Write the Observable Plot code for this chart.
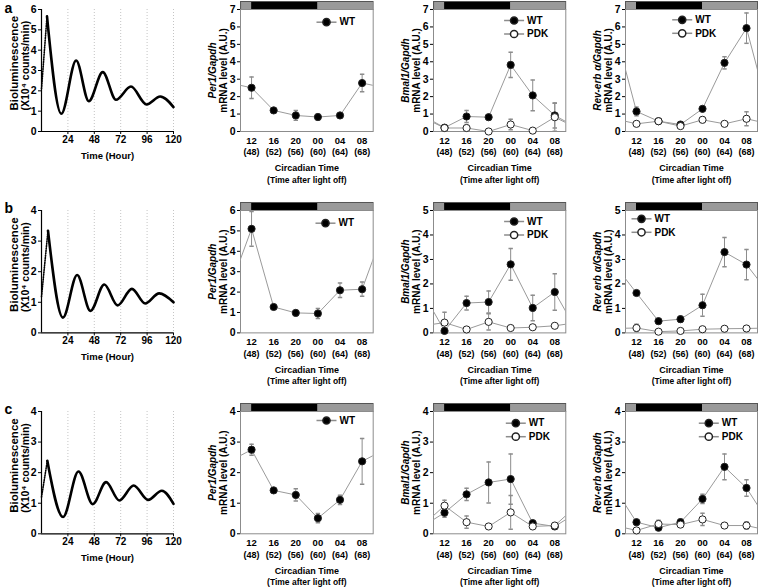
<!DOCTYPE html>
<html><head><meta charset="utf-8">
<script src="https://cdn.jsdelivr.net/npm/d3@7"></script>
<script src="https://cdn.jsdelivr.net/npm/@observablehq/plot@0.6"></script>
<style>
body{margin:0;background:#fff;}
#fig{position:relative;width:758px;height:587px;overflow:hidden;background:#fff;}
</style></head><body><div id="fig"></div>
<script>
// ---------- data ----------
const bioTicks = [24, 48, 72, 96, 120];
const bioHoursA = [0, 5, 18, 31.5, 43, 55.7, 67.7, 81.3, 95.5, 107.9, 120];
const bioValuesA = [2.1, 5.66, 0.87, 3.49, 1.49, 2.92, 1.56, 2.21, 1.33, 1.72, 1.2];
const bioHoursB = [0, 5.9, 19.5, 32.4, 44.5, 57.1, 69.2, 82.2, 94.3, 107, 120];
const bioValuesB = [1.18, 3.34, 0.5, 1.89, 0.72, 1.58, 0.9, 1.44, 0.96, 1.29, 1.0];
const bioHoursC = [0, 5.3, 19.6, 33.6, 46.6, 58.7, 70.7, 83.8, 97, 109.4, 120];
const bioValuesC = [1.2, 2.39, 0.55, 2.04, 0.97, 1.69, 1.09, 1.58, 1.11, 1.41, 0.98];

const ctTicks = [12, 16, 20, 24, 28, 32];
const ctLabels = ["12", "16", "20", "00", "04", "08"];
const hourLabels = ["(48)", "(52)", "(56)", "(60)", "(64)", "(68)"];
const phaseStart = [10, 12, 24];
const phaseEnd = [12, 24, 34];
const phaseName = ["light", "dark", "light"];

// row a
const per1A_WT = [2.51, 1.21, 0.92, 0.83, 0.92, 2.78];
const per1A_WT_err = [0.62, 0.1, 0.28, 0.18, 0.08, 0.5];
const bmal1A_WT = [0.22, 0.86, 0.82, 3.82, 2.07, 0.92];
const bmal1A_WT_err = [0.1, 0.35, 0.05, 0.72, 0.88, 0.72];
const bmal1A_PDK = [0.2, 0.2, 0.0, 0.4, 0.05, 0.82];
const bmal1A_PDK_err = [0.05, 0.15, 0.03, 0.3, 0.04, 0.8];
const revA_WT = [1.15, 0.59, 0.4, 1.3, 3.94, 5.93];
const revA_WT_err = [0.25, 0.08, 0.08, 0.08, 0.35, 0.87];
const revA_PDK = [0.44, 0.59, 0.31, 0.67, 0.44, 0.73];
const revA_PDK_err = [0.06, 0.06, 0.05, 0.15, 0.12, 0.4];
// row b
const per1B_WT = [5.1, 1.27, 0.98, 0.95, 2.09, 2.14];
const per1B_WT_err = [0.85, 0.05, 0.08, 0.25, 0.35, 0.35];
const bmal1B_WT = [0.08, 1.22, 1.26, 2.8, 1.02, 1.67];
const bmal1B_WT_err = [0.05, 0.28, 0.45, 0.65, 0.52, 0.75];
const bmal1B_PDK = [0.42, 0.14, 0.45, 0.2, 0.23, 0.29];
const bmal1B_PDK_err = [0.42, 0.05, 0.33, 0.04, 0.04, 0.05];
const revB_WT = [1.63, 0.48, 0.56, 1.13, 3.3, 2.79];
const revB_WT_err = [0.08, 0.05, 0.12, 0.45, 0.6, 0.62];
const revB_PDK = [0.2, 0.05, 0.08, 0.15, 0.17, 0.18];
const revB_PDK_err = [0.15, 0.03, 0.03, 0.04, 0.04, 0.04];
// row c
const per1C_WT = [2.75, 1.42, 1.27, 0.51, 1.11, 2.37];
const per1C_WT_err = [0.18, 0.05, 0.2, 0.15, 0.15, 0.75];
const bmal1C_WT = [0.69, 1.29, 1.68, 1.79, 0.35, 0.24];
const bmal1C_WT_err = [0.15, 0.2, 0.67, 0.82, 0.05, 0.05];
const bmal1C_PDK = [0.92, 0.38, 0.24, 0.7, 0.24, 0.27];
const bmal1C_PDK_err = [0.18, 0.2, 0.05, 0.55, 0.05, 0.05];
const revC_WT = [0.38, 0.2, 0.38, 1.14, 2.19, 1.5];
const revC_WT_err = [0.05, 0.05, 0.1, 0.15, 0.42, 0.27];
const revC_PDK = [0.11, 0.32, 0.3, 0.47, 0.27, 0.27];
const revC_PDK_err = [0.03, 0.12, 0.06, 0.2, 0.05, 0.12];

// ---------- helpers ----------
const FONT = "'Liberation Sans', Arial, Helvetica, sans-serif";
const fig = document.getElementById("fig");
const GRAY = "#8c8c8c";

function addSvg(svg, left, top) {
  svg.style.position = "absolute";
  svg.style.left = left + "px";
  svg.style.top = top + "px";
  svg.style.overflow = "visible";
  fig.appendChild(svg);
}
const hSymbol = {draw(ctx, size) { const r = Math.sqrt(size / Math.PI); ctx.moveTo(-r, 0); ctx.lineTo(r, 0); }};
const baseStyle = {fontFamily: FONT, fontSize: "10px", fontWeight: "bold", background: "transparent", overflow: "visible", color: "#000"};
const intFmt = d => String(d);

function bioPanel(p) {
  const ml = 45, mr = 14, mt = 14, mb = 34;
  const pts = p.hours.map((h, i) => ({h, v: p.values[i]}));
  const svg = Plot.plot({
    width: p.W + ml + mr, height: p.H + mt + mb,
    marginLeft: ml, marginRight: mr, marginTop: mt, marginBottom: mb,
    style: baseStyle,
    x: {domain: [0, 120], axis: null},
    y: {domain: [0, p.ymax], axis: null},
    marks: [
      Plot.ruleX(bioTicks, {stroke: "#c4c4c4", strokeDasharray: "1,2"}),
      Plot.line(pts.slice(0, 2), {x: "h", y: "v", stroke: "#000", strokeWidth: 1.6, strokeDasharray: "1,1.4"}),
      Plot.line(pts.slice(1), {x: "h", y: "v", stroke: "#000", strokeWidth: 2.6, curve: "monotone-x"}),
      Plot.ruleX([0], {stroke: "#000", strokeWidth: 1.2}),
      Plot.ruleY([0], {stroke: "#000", strokeWidth: 1.2}),
      Plot.axisX({ticks: bioTicks, tickFormat: intFmt, tickSize: 3, tickPadding: 1, label: null, fontSize: 10}),
      Plot.axisY({ticks: d3.range(0, p.ymax + 1), tickFormat: intFmt, tickSize: 3, tickPadding: 2, label: null, fontSize: 10.5}),
      Plot.text(["Time (Hour)"], {text: d => d, frameAnchor: "bottom", dy: 24, lineAnchor: "middle", fontSize: 9.5}),
      Plot.text(["Bioluminescence"], {text: d => d, frameAnchor: "bottom-left", dx: -27, dy: -21, rotate: -90, textAnchor: "start", lineAnchor: "middle", fontSize: 11.5}),
      Plot.text(["(X10\u2074 counts/min)"], {text: d => d, frameAnchor: "bottom-left", dx: -15.5, dy: -21, rotate: -90, textAnchor: "start", lineAnchor: "middle", fontSize: 10.5}),
      Plot.text([p.letter], {text: d => d, frameAnchor: "top-left", dx: -37, dy: 3, textAnchor: "start", lineAnchor: "bottom", fontSize: 14})
    ]
  });
  addSvg(svg, p.L - ml, p.T - mt);
}

function seriesRows(vals, errs) {
  return ctTicks.map((ct, i) => ({ct, v: vals[i], lo: vals[i] - errs[i], hi: vals[i] + errs[i]}));
}
function wrapRows(vals) {
  const step = ctTicks[1] - ctTicks[0], n = ctTicks.length;
  return [{ct: ctTicks[0] - step, v: vals[n - 1]}, ...ctTicks.map((ct, i) => ({ct, v: vals[i]})), {ct: ctTicks[n - 1] + step, v: vals[0]}];
}

function mrnaPanel(p) {
  const ml = 48, mr = 6, mt = 2, mb = 58;
  const xdom = [phaseStart[0], phaseEnd[phaseEnd.length - 1]];
  const phases = phaseName.map((ph, i) => ({ph, s: phaseStart[i], e: phaseEnd[i]}));
  const barH = 8;
  const bar = Plot.plot({
    width: p.W + ml + mr, height: barH + 2,
    marginLeft: ml, marginRight: mr, marginTop: 1, marginBottom: 1,
    style: baseStyle,
    x: {domain: xdom, axis: null},
    marks: [
      Plot.rect(phases.filter(d => d.ph === "light"), {x1: "s", x2: "e", fill: "#9a9a9a"}),
      Plot.rect(phases.filter(d => d.ph === "dark"), {x1: "s", x2: "e", fill: "#000"}),
      Plot.frame({stroke: "#555", strokeWidth: 1})
    ]
  });
  addSvg(bar, p.L - ml, p.T - barH - 1);

  const marks = [Plot.frame({stroke: GRAY})];
  p.series.forEach(s => marks.push(Plot.line(wrapRows(s.values), {x: "ct", y: "v", stroke: "#9a9a9a", strokeWidth: 1, clip: true})));
  p.series.forEach(s => {
    const rows = seriesRows(s.values, s.errors);
    marks.push(Plot.ruleX(rows, {x: "ct", y1: "lo", y2: "hi", stroke: GRAY, strokeWidth: 1, clip: true}));
    marks.push(Plot.dot(rows, {x: "ct", y: "hi", symbol: hSymbol, r: 2.2, stroke: GRAY, fill: "none", clip: true}));
    marks.push(Plot.dot(rows, {x: "ct", y: "lo", symbol: hSymbol, r: 2.2, stroke: GRAY, fill: "none", clip: true}));
  });
  p.series.forEach(s => marks.push(Plot.dot(seriesRows(s.values, s.errors), {x: "ct", y: "v", r: 3.6, fill: s.open ? "#fff" : "#000", stroke: "#222", strokeWidth: 1})));
  p.series.forEach((s, i) => {
    const dy = p.legend.y + i * 13.5;
    marks.push(Plot.dot([s.name], {frameAnchor: "top-left", dx: p.legend.x, dy, symbol: hSymbol, r: 10, stroke: GRAY, fill: "none"}));
    marks.push(Plot.dot([s.name], {frameAnchor: "top-left", dx: p.legend.x, dy, r: 3.6, fill: s.open ? "#fff" : "#000", stroke: "#222"}));
    marks.push(Plot.text([s.name], {frameAnchor: "top-left", dx: p.legend.x + 13, dy, text: d => d, textAnchor: "start", lineAnchor: "middle", fontSize: 10}));
  });
  marks.push(Plot.axisY({ticks: d3.range(0, p.ymax + 1), tickFormat: intFmt, tickSize: 3, tickPadding: 2, label: null, fontSize: 10.5}));
  marks.push(Plot.text(ctTicks, {x: d => d, text: (d, i) => ctLabels[i], frameAnchor: "bottom", dy: 9, lineAnchor: "middle", fontSize: 9.5}));
  marks.push(Plot.text(ctTicks, {x: d => d, text: (d, i) => hourLabels[i], frameAnchor: "bottom", dy: 21, lineAnchor: "middle", fontSize: 9}));
  marks.push(Plot.text(["Circadian Time"], {text: d => d, frameAnchor: "bottom", dy: 37, lineAnchor: "middle", fontSize: 9}));
  marks.push(Plot.text(["(Time after light off)"], {text: d => d, frameAnchor: "bottom", dy: 48.5, lineAnchor: "middle", fontSize: 8.5}));
  marks.push(Plot.text([p.gene], {text: d => d, frameAnchor: "left", dx: -28, rotate: -90, textAnchor: "middle", lineAnchor: "middle", fontStyle: "italic", fontSize: 10}));
  marks.push(Plot.text(["mRNA level (A.U.)"], {text: d => d, frameAnchor: "left", dx: -17, rotate: -90, textAnchor: "middle", lineAnchor: "middle", fontSize: 10}));

  const svg = Plot.plot({
    width: p.W + ml + mr, height: p.H + mt + mb,
    marginLeft: ml, marginRight: mr, marginTop: mt, marginBottom: mb,
    style: baseStyle,
    x: {domain: xdom, axis: null},
    y: {domain: [0, p.ymax], axis: null},
    marks
  });
  addSvg(svg, p.L - ml, p.T - mt);
}

// ---------- layout ----------
const rows = [
  {T: 9, H: 122},
  {T: 210.3, H: 122.4},
  {T: 411.2, H: 122.3}
];
const cols = {bio: {L: 41, W: 132}, per1: {L: 240, W: 132.7}, bmal1: {L: 432.7, W: 132.3}, rev: {L: 625, W: 132}};

bioPanel({...cols.bio, ...rows[0], ymax: 6, hours: bioHoursA, values: bioValuesA, letter: "a"});
bioPanel({...cols.bio, ...rows[1], ymax: 4, hours: bioHoursB, values: bioValuesB, letter: "b"});
bioPanel({...cols.bio, ...rows[2], ymax: 4, hours: bioHoursC, values: bioValuesC, letter: "c"});

mrnaPanel({...cols.per1, ...rows[0], ymax: 7, gene: "Per1/Gapdh", legend: {x: 86, y: 12.7},
  series: [{name: "WT", values: per1A_WT, errors: per1A_WT_err}]});
mrnaPanel({...cols.bmal1, ...rows[0], ymax: 7, gene: "Bmal1/Gapdh", legend: {x: 80.6, y: 11},
  series: [{name: "WT", values: bmal1A_WT, errors: bmal1A_WT_err}, {name: "PDK", values: bmal1A_PDK, errors: bmal1A_PDK_err, open: true}]});
mrnaPanel({...cols.rev, ...rows[0], ymax: 7, gene: "Rev-erb \u03b1/Gapdh", legend: {x: 56.7, y: 10.3},
  series: [{name: "WT", values: revA_WT, errors: revA_WT_err}, {name: "PDK", values: revA_PDK, errors: revA_PDK_err, open: true}]});

mrnaPanel({...cols.per1, ...rows[1], ymax: 6, gene: "Per1/Gapdh", legend: {x: 85, y: 12.7},
  series: [{name: "WT", values: per1B_WT, errors: per1B_WT_err}]});
mrnaPanel({...cols.bmal1, ...rows[1], ymax: 5, gene: "Bmal1/Gapdh", legend: {x: 80.6, y: 11},
  series: [{name: "WT", values: bmal1B_WT, errors: bmal1B_WT_err}, {name: "PDK", values: bmal1B_PDK, errors: bmal1B_PDK_err, open: true}]});
mrnaPanel({...cols.rev, ...rows[1], ymax: 5, gene: "Rev erb \u03b1/Gapdh", legend: {x: 16, y: 8.3},
  series: [{name: "WT", values: revB_WT, errors: revB_WT_err}, {name: "PDK", values: revB_PDK, errors: revB_PDK_err, open: true}]});

mrnaPanel({...cols.per1, ...rows[2], ymax: 4, gene: "Per1/Gapdh", legend: {x: 86, y: 9},
  series: [{name: "WT", values: per1C_WT, errors: per1C_WT_err}]});
mrnaPanel({...cols.bmal1, ...rows[2], ymax: 4, gene: "Bmal1/Gapdh", legend: {x: 82.3, y: 11.7},
  series: [{name: "WT", values: bmal1C_WT, errors: bmal1C_WT_err}, {name: "PDK", values: bmal1C_PDK, errors: bmal1C_PDK_err, open: true}]});
mrnaPanel({...cols.rev, ...rows[2], ymax: 4, gene: "Rev-erb \u03b1/Gapdh", legend: {x: 83.3, y: 11.7},
  series: [{name: "WT", values: revC_WT, errors: revC_WT_err}, {name: "PDK", values: revC_PDK, errors: revC_PDK_err, open: true}]});
</script>
</body></html>
